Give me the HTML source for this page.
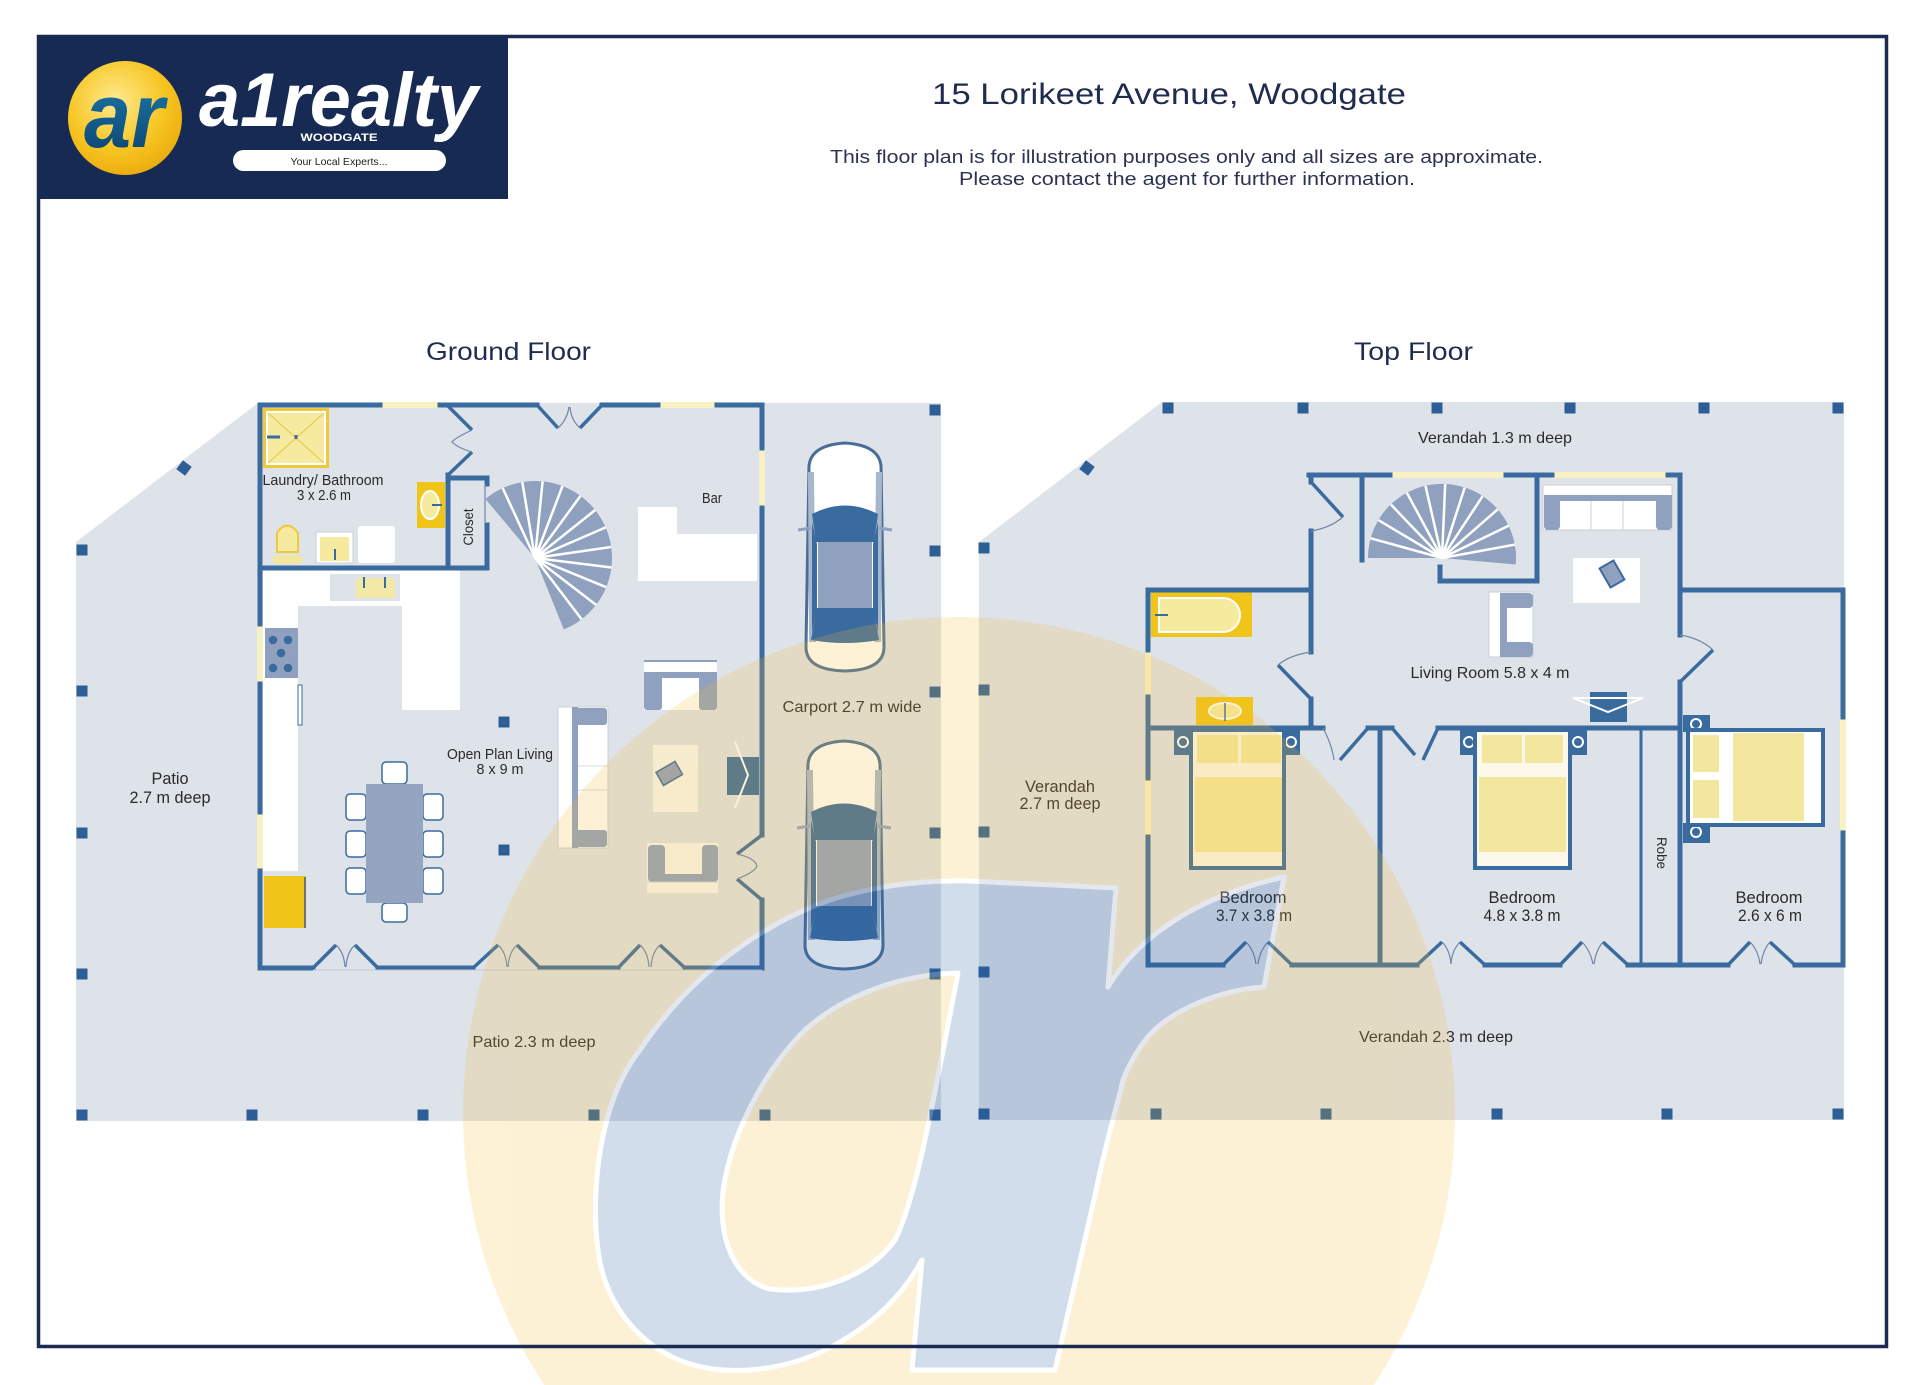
<!DOCTYPE html>
<html><head><meta charset="utf-8"><style>
html,body{margin:0;padding:0;background:#fff;width:1920px;height:1385px;overflow:hidden;}
svg{display:block;}
text{font-family:"Liberation Sans",Arial,sans-serif;}
</style></head><body>
<svg width="1920" height="1385" viewBox="0 0 1920 1385" xmlns="http://www.w3.org/2000/svg">
<defs>
<radialGradient id="gold" cx="42%" cy="35%" r="70%"><stop offset="0" stop-color="#fde98f"/><stop offset="0.6" stop-color="#f7c623"/><stop offset="1" stop-color="#eaa90c"/></radialGradient>
<linearGradient id="teal" x1="0" y1="0" x2="0" y2="1"><stop offset="0" stop-color="#1d80b2"/><stop offset="1" stop-color="#0a3e6b"/></linearGradient>
<g id="car">
<path d="M6,24 Q8,3 42,1 Q76,3 78,24 L81,205 Q81,228 42,229 Q3,228 3,205 Z" fill="#fff" stroke="#4a6d98" stroke-width="3"/>
<path d="M5,30 L11,30 L13,200 L6,200 Z" fill="#a9b7cc"/>
<path d="M79,30 L73,30 L71,200 L78,200 Z" fill="#a9b7cc"/>
<path d="M9,72 Q42,55 75,72 L71,100 L13,100 Z" fill="#3a6b9f"/>
<path d="M9,80 L14,102 L14,168 L9,190 Z" fill="#3a6b9f"/>
<path d="M75,80 L70,102 L70,168 L75,190 Z" fill="#3a6b9f"/>
<rect x="15" y="100" width="54" height="68" fill="#8fa1bf"/>
<path d="M14,166 L70,166 L76,198 Q42,204 8,198 Z" fill="#3a6b9f"/>
<path d="M-5,88 L8,86 M89,88 L76,86" stroke="#8fa1bf" stroke-width="3"/>
</g>
</defs>
<rect width="1920" height="1385" fill="#fff"/>

<!-- header text -->
<text x="932" y="104" font-size="30" fill="#1f2c4f" textLength="474" lengthAdjust="spacingAndGlyphs">15 Lorikeet Avenue, Woodgate</text>
<text x="830" y="163" font-size="18.5" fill="#2b3350" textLength="713" lengthAdjust="spacingAndGlyphs">This floor plan is for illustration purposes only and all sizes are approximate.</text>
<text x="959" y="185" font-size="18.5" fill="#2b3350" textLength="456" lengthAdjust="spacingAndGlyphs">Please contact the agent for further information.</text>
<text x="426" y="360" font-size="25" fill="#1f2c4f" textLength="165" lengthAdjust="spacingAndGlyphs">Ground Floor</text>
<text x="1354" y="360" font-size="25" fill="#1f2c4f" textLength="119" lengthAdjust="spacingAndGlyphs">Top Floor</text>

<!-- floor areas -->
<polygon points="76,542 258,403 941,403 941,1121 76,1121" fill="#dee2e9"/>
<polygon points="979,542 1162,402 1844,402 1844,1120 979,1120" fill="#dee2e9"/>

<!-- ===== GROUND FLOOR ===== -->
<rect x="263" y="568" width="197" height="38" fill="#fff"/>
<rect x="330" y="574" width="70" height="27" fill="#dee2e9"/>
<rect x="356" y="578" width="39" height="20" fill="#f3e9a6"/>
<path d="M364,577 V588 M385,577 V588" stroke="#3a6b9f" stroke-width="2"/>
<rect x="263" y="606" width="35" height="265" fill="#fff"/>
<rect x="402" y="606" width="58" height="104" fill="#fff"/>
<rect x="265" y="628" width="33" height="50" fill="#8fa1bf"/>
<g fill="#3a6b9f"><circle cx="273" cy="640" r="4.3"/><circle cx="288" cy="640" r="4.3"/><circle cx="281" cy="653" r="4.3"/><circle cx="273" cy="668" r="4.3"/><circle cx="288" cy="668" r="4.3"/></g>
<rect x="298" y="685" width="4" height="40" fill="#fff" stroke="#3a6b9f" stroke-width="1"/>
<rect x="264" y="876" width="42" height="52" fill="#f0c419"/>
<path d="M305,877 V928" stroke="#3a5f8a" stroke-width="1.5"/>

<rect x="263" y="408" width="66" height="60" fill="#f0c93a"/>
<rect x="267" y="412" width="58" height="52" fill="#f6ea9f" stroke="#fff" stroke-width="2"/>
<path d="M268,413 L324,463 M324,413 L268,463" stroke="#e3c74a" stroke-width="1"/>
<path d="M267,437 H280 M296,435 V439" stroke="#3a6b9f" stroke-width="3"/>
<rect x="417" y="482" width="28" height="46" fill="#f0c419"/>
<ellipse cx="430" cy="505" rx="9" ry="14" fill="#f6ea9f" stroke="#fff" stroke-width="2"/>
<path d="M432,505 H442" stroke="#3a6b9f" stroke-width="2"/>
<rect x="273" y="555" width="29" height="9" rx="3" fill="#f3e7a0"/>
<path d="M277,552 L277,533 Q287,518 298,533 L298,552 Z" fill="#f6ea9f" stroke="#f0c93a" stroke-width="2"/>
<rect x="316" y="532" width="37" height="31" fill="#fff" stroke="#c9cfd9" stroke-width="1"/>
<rect x="320" y="537" width="29" height="24" fill="#f6ea9f"/>
<path d="M335,549 V560" stroke="#3a6b9f" stroke-width="2"/>
<rect x="358" y="526" width="37" height="37" rx="3" fill="#fff"/>

<g fill="#f8f1c3">
<rect x="380" y="402" width="60" height="6"/><rect x="658" y="402" width="59" height="6"/>
<rect x="257" y="624" width="6" height="60"/><rect x="257" y="812" width="6" height="59"/>
<rect x="759" y="448" width="6" height="60"/>
</g>

<path d="M535,558 L485.5,499 A77,77 0 1 1 563.8,629.4 Z" fill="#8fa1bf"/>
<path d="M535,558 L502.7,488.1 M535,558 L522.3,482.1 M535,558 L542.6,481.4 M535,558 L562.5,486.1 M535,558 L580.5,495.9 M535,558 L595.2,510 M535,558 L605.7,527.4 M535,558 L611.2,547 M535,558 L611.4,567.5 M535,558 L606.2,587.2 M535,558 L596.1,604.9 M535,558 L581.6,619.3" stroke="#fff" stroke-width="2.5"/>

<polygon points="638,507 677,507 677,534 757,534 757,581 638,581" fill="#fff"/>

<rect x="644" y="660" width="73" height="50" fill="#fff"/>
<path d="M644,661 H717" stroke="#8fa1bf" stroke-width="2"/>
<rect x="644" y="672" width="73" height="6" fill="#8fa1bf"/>
<rect x="644" y="673" width="18" height="37" rx="3" fill="#8fa1bf"/>
<rect x="699" y="673" width="18" height="37" rx="3" fill="#8fa1bf"/>
<rect x="558" y="707" width="50" height="141" fill="#fff" stroke="#c9cfd9" stroke-width="1"/>
<rect x="572" y="707" width="6" height="141" fill="#8fa1bf"/>
<rect x="573" y="708" width="34" height="17" rx="3" fill="#8fa1bf"/>
<rect x="573" y="830" width="34" height="17" rx="3" fill="#8fa1bf"/>
<path d="M578,766 H607 M578,790 H607" stroke="#d6dbe3" stroke-width="1"/>
<rect x="653" y="745" width="45" height="67" fill="#f8f8f4"/>
<rect x="658" y="766" width="22" height="15" fill="#8fa1bf" stroke="#3a6b9f" stroke-width="1.5" transform="rotate(-30 669 773)"/>
<rect x="647" y="843" width="71" height="50" fill="#f8f8f4"/>
<rect x="648" y="845" width="17" height="37" rx="4" fill="#8fa1bf"/>
<rect x="702" y="845" width="16" height="37" rx="4" fill="#8fa1bf"/>
<rect x="660" y="874" width="45" height="8" fill="#8fa1bf"/>
<path d="M647,882 H718" stroke="#c9cfd9" stroke-width="1"/>
<rect x="727" y="757" width="32" height="38" fill="#3a6b9f"/>
<path d="M735,742 L748,775 L735,808" stroke="#fff" stroke-width="2" fill="none"/>

<g fill="#fff" stroke="#3a6b9f" stroke-width="1.5">
<rect x="346" y="794" width="20" height="26" rx="4"/><rect x="346" y="831" width="20" height="26" rx="4"/><rect x="346" y="868" width="20" height="26" rx="4"/>
<rect x="423" y="794" width="20" height="26" rx="4"/><rect x="423" y="831" width="20" height="26" rx="4"/><rect x="423" y="868" width="20" height="26" rx="4"/>
<rect x="382" y="762" width="25" height="22" rx="4"/><rect x="382" y="903" width="25" height="19" rx="4"/>
</g>
<rect x="366" y="784" width="57" height="119" fill="#94a5c2"/>

<path d="M260,405 H380 M440,405 H537 M602,405 H658 M717,405 H762 M260,405 V624 M260,684 V812 M260,871 V968 M260,968 H313 M378,968 H473 M540,968 H618 M685,968 H762 M762,405 V448 M762,508 V835 M762,900 V968 M260,568 H487 M448,475 V568 M448,478 H487 M487,478 V484 M487,525 V568" stroke="#3a6b9f" stroke-width="5" stroke-linecap="square" fill="none"/>
<path d="M537,405 L558,428 M602,405 L580,428 M447,405 L472,430 M472,452 L448,475 M313,968 L336,945 M378,968 L355,945 M473,968 L498,945 M540,968 L517,945 M618,968 L640,945 M685,968 L660,945 M762,835 L737,854 M737,879 L762,900" stroke="#3a6b9f" stroke-width="3.5" fill="none"/>
<path d="M558,428 Q567,420 569,407 M580,428 Q571,420 570,407 M472,430 Q455,438 452,442 Q458,448 472,452 M336,945 Q344,952 345,967 M355,945 Q347,952 346,967 M498,945 Q506,952 507,967 M517,945 Q509,952 508,967 M640,945 Q648,952 649,967 M660,945 Q652,952 651,967 M737,854 Q755,858 757,866 Q755,872 737,879 M485,484 V522" stroke="#6f86a8" stroke-width="1.2" fill="none"/>
<path d="M313,970 H762" stroke="#c3cad5" stroke-width="1"/>

<use href="#car" transform="translate(803,442)"/>
<use href="#car" transform="translate(802,740)"/>

<g fill="#2d5e95">
<rect x="76.5" y="544.5" width="11" height="11"/><rect x="76.5" y="685.5" width="11" height="11"/><rect x="76.5" y="827.5" width="11" height="11"/><rect x="76.5" y="968.5" width="11" height="11"/><rect x="76.5" y="1109.5" width="11" height="11"/>
<rect x="246.5" y="1109.5" width="11" height="11"/><rect x="417.5" y="1109.5" width="11" height="11"/><rect x="588.5" y="1109.5" width="11" height="11"/><rect x="759.5" y="1109.5" width="11" height="11"/><rect x="929.5" y="1109.5" width="11" height="11"/>
<rect x="929.5" y="968.5" width="11" height="11"/><rect x="929.5" y="827.5" width="11" height="11"/><rect x="929.5" y="686.5" width="11" height="11"/><rect x="929.5" y="545.5" width="11" height="11"/><rect x="929.5" y="404.5" width="11" height="11"/>
<rect x="498.5" y="716.5" width="11" height="11"/><rect x="498.5" y="844.5" width="11" height="11"/>
<rect x="178.5" y="462.5" width="11" height="11" transform="rotate(37 184 468)"/>
<rect x="1162.5" y="402.5" width="11" height="11"/><rect x="1297.5" y="402.5" width="11" height="11"/><rect x="1431.5" y="402.5" width="11" height="11"/><rect x="1564.5" y="402.5" width="11" height="11"/><rect x="1698.5" y="402.5" width="11" height="11"/><rect x="1832.5" y="402.5" width="11" height="11"/>
<rect x="978.5" y="542.5" width="11" height="11"/><rect x="978.5" y="684.5" width="11" height="11"/><rect x="978.5" y="826.5" width="11" height="11"/><rect x="978.5" y="966.5" width="11" height="11"/><rect x="978.5" y="1108.5" width="11" height="11"/>
<rect x="1150.5" y="1108.5" width="11" height="11"/><rect x="1320.5" y="1108.5" width="11" height="11"/><rect x="1491.5" y="1108.5" width="11" height="11"/><rect x="1661.5" y="1108.5" width="11" height="11"/><rect x="1832.5" y="1108.5" width="11" height="11"/>
<rect x="1081.5" y="462.5" width="11" height="11" transform="rotate(37 1087 468)"/>
</g>

<g fill="#2a2a2a" text-anchor="middle">
<text x="323" y="485" font-size="14.5" textLength="121" lengthAdjust="spacingAndGlyphs">Laundry/ Bathroom</text>
<text x="324" y="500" font-size="14.5" textLength="54" lengthAdjust="spacingAndGlyphs">3 x 2.6 m</text>
<text x="0" y="5" font-size="14" textLength="37" lengthAdjust="spacingAndGlyphs" transform="translate(468,527) rotate(-90)">Closet</text>
<text x="712" y="503" font-size="14.5" textLength="20" lengthAdjust="spacingAndGlyphs">Bar</text>
<text x="500" y="759" font-size="14.5" textLength="106" lengthAdjust="spacingAndGlyphs">Open Plan Living</text>
<text x="500" y="774" font-size="14.5" textLength="47" lengthAdjust="spacingAndGlyphs">8 x 9 m</text>
<text x="170" y="784" font-size="16.5" textLength="37" lengthAdjust="spacingAndGlyphs">Patio</text>
<text x="170" y="803" font-size="16.5" textLength="81" lengthAdjust="spacingAndGlyphs">2.7 m deep</text>
<text x="852" y="712" font-size="16" textLength="139" lengthAdjust="spacingAndGlyphs">Carport 2.7 m wide</text>
<text x="534" y="1047" font-size="16" textLength="123" lengthAdjust="spacingAndGlyphs">Patio 2.3 m deep</text>
</g>

<!-- ===== TOP FLOOR ===== -->
<path d="M1442,558 L1368,558 A74,74 0 1 1 1515.7,564.5 Z" fill="#8fa1bf"/>
<path d="M1442,558 L1370.7,538.3 M1442,558 L1378.4,520.1 M1442,558 L1390.9,504.5 M1442,558 L1406.9,492.8 M1442,558 L1425.5,485.9 M1442,558 L1445.2,484.1 M1442,558 L1464.7,487.6 M1442,558 L1482.6,496.2 M1442,558 L1497.7,509.3 M1442,558 L1508.6,525.8 M1442,558 L1514.8,544.6" stroke="#fff" stroke-width="2.5"/>

<rect x="1151" y="592" width="101" height="45" fill="#f0c419"/>
<path d="M1159,598 H1223 A17,17 0 0 1 1223,632 H1159 Z" fill="#f6ea9f" stroke="#fff" stroke-width="2"/>
<path d="M1155,615 H1168" stroke="#3a6b9f" stroke-width="2"/>
<rect x="1196" y="697" width="57" height="28" fill="#f0c419"/>
<ellipse cx="1225" cy="711" rx="16" ry="8" fill="#f6ea9f" stroke="#fff" stroke-width="2"/>
<path d="M1225,703 V721" stroke="#3a6b9f" stroke-width="1.5"/>

<rect x="1543" y="485" width="129" height="45" fill="#fff" stroke="#c9cfd9" stroke-width="1"/>
<rect x="1544" y="495" width="128" height="6" fill="#8fa1bf"/>
<rect x="1544" y="496" width="16" height="34" rx="4" fill="#8fa1bf"/>
<rect x="1656" y="496" width="16" height="34" rx="4" fill="#8fa1bf"/>
<path d="M1591,501 V530 M1623,501 V530" stroke="#c9cfd9" stroke-width="1"/>
<rect x="1573" y="558" width="67" height="45" fill="#fff"/>
<rect x="1604" y="563" width="16" height="22" fill="#8fa1bf" stroke="#3a6b9f" stroke-width="2" transform="rotate(-30 1612 574)"/>
<rect x="1489" y="592" width="44" height="65" fill="#fff" stroke="#c9cfd9" stroke-width="1"/>
<rect x="1500" y="593" width="7" height="64" fill="#8fa1bf"/>
<rect x="1502" y="593" width="31" height="15" rx="4" fill="#8fa1bf"/>
<rect x="1502" y="642" width="31" height="15" rx="4" fill="#8fa1bf"/>
<rect x="1590" y="692" width="37" height="30" fill="#3a6b9f"/>
<path d="M1573,698 H1643 L1608,712 Z" stroke="#fff" stroke-width="2" fill="none"/>

<g fill="#3a6b9f">
<rect x="1174" y="728" width="18" height="27"/><rect x="1281" y="728" width="19" height="27"/>
<rect x="1460" y="728" width="18" height="27"/><rect x="1570" y="728" width="17" height="27"/>
<rect x="1683" y="715" width="27" height="17"/><rect x="1683" y="823" width="27" height="20"/>
</g>
<g fill="none" stroke="#fff" stroke-width="2">
<circle cx="1183" cy="742" r="5"/><circle cx="1291" cy="742" r="5"/><circle cx="1469" cy="742" r="5"/><circle cx="1578" cy="742" r="5"/><circle cx="1696" cy="724" r="5"/><circle cx="1696" cy="832" r="5"/>
</g>
<rect x="1191" y="730" width="93" height="138" fill="#fcf8ea" stroke="#3a6b9f" stroke-width="4"/>
<rect x="1197" y="735" width="41" height="28" fill="#f3e7a0"/><rect x="1241" y="735" width="40" height="28" fill="#f3e7a0"/>
<rect x="1195" y="777" width="87" height="75" fill="#f3e7a0"/>
<rect x="1475" y="730" width="95" height="138" fill="#fcf8ea" stroke="#3a6b9f" stroke-width="4"/>
<rect x="1482" y="735" width="40" height="28" fill="#f3e7a0"/><rect x="1525" y="735" width="38" height="28" fill="#f3e7a0"/>
<rect x="1479" y="777" width="87" height="75" fill="#f3e7a0"/>
<rect x="1688" y="730" width="135" height="95" fill="#fff" stroke="#3a6b9f" stroke-width="4"/>
<rect x="1693" y="735" width="26" height="37" fill="#f3e7a0"/><rect x="1693" y="780" width="26" height="38" fill="#f3e7a0"/>
<rect x="1733" y="733" width="71" height="88" fill="#f3e7a0"/>

<g fill="#f8f1c3">
<rect x="1390" y="472" width="116" height="6"/><rect x="1552" y="472" width="116" height="6"/>
<rect x="1145" y="650" width="6" height="47"/><rect x="1145" y="778" width="6" height="59"/>
<rect x="1840" y="717" width="6" height="116"/>
</g>

<path d="M1309,475 H1390 M1506,475 H1552 M1668,475 H1680 M1362,475 V560 M1537,475 V581 M1440,567 V581 M1440,581 H1537 M1311,475 V482 M1311,531 V652 M1311,699 V728 M1680,475 V635 M1680,682 V965 M1148,590 H1311 M1148,590 V650 M1148,697 V778 M1148,837 V965 M1148,728 H1323 M1368,728 H1392 M1438,728 H1680 M1380,728 V965 M1680,590 H1843 M1843,590 V717 M1843,833 V965 M1148,965 H1223 M1292,965 H1417 M1485,965 H1560 M1628,965 H1728 M1795,965 H1843" stroke="#3a6b9f" stroke-width="5" stroke-linecap="square" fill="none"/>
<path d="M1641,728 V965" stroke="#3a6b9f" stroke-width="3"/>
<path d="M1311,482 L1343,517 M1278,665 L1311,699 M1680,682 L1713,650 M1368,728 L1340,760 M1392,728 L1415,755 M1438,728 L1423,760 M1223,965 L1246,942 M1292,965 L1268,942 M1417,965 L1442,942 M1485,965 L1460,942 M1560,965 L1582,942 M1628,965 L1603,942 M1728,965 L1750,942 M1795,965 L1770,942" stroke="#3a6b9f" stroke-width="3.5" fill="none"/>
<path d="M1343,517 Q1330,528 1311,531 M1311,652 Q1290,655 1278,665 M1680,635 Q1700,638 1713,650 M1323,728 Q1332,745 1334,760 M1246,942 Q1254,950 1256,964 M1268,942 Q1260,950 1258,964 M1442,942 Q1450,950 1451,964 M1460,942 Q1452,950 1451,964 M1582,942 Q1590,950 1593,964 M1603,942 Q1596,950 1594,964 M1750,942 Q1758,950 1760,964 M1770,942 Q1763,950 1761,964" stroke="#6f86a8" stroke-width="1.2" fill="none"/>

<g fill="#2a2a2a" text-anchor="middle">
<text x="1495" y="443" font-size="16" textLength="154" lengthAdjust="spacingAndGlyphs">Verandah 1.3 m deep</text>
<text x="1490" y="678" font-size="16" textLength="159" lengthAdjust="spacingAndGlyphs">Living Room 5.8 x 4 m</text>
<text x="1060" y="792" font-size="16.5" textLength="70" lengthAdjust="spacingAndGlyphs">Verandah</text>
<text x="1060" y="809" font-size="16.5" textLength="81" lengthAdjust="spacingAndGlyphs">2.7 m deep</text>
<text x="1253" y="903" font-size="16.5" textLength="67" lengthAdjust="spacingAndGlyphs">Bedroom</text>
<text x="1254" y="921" font-size="16.5" textLength="76" lengthAdjust="spacingAndGlyphs">3.7 x 3.8 m</text>
<text x="1522" y="903" font-size="16.5" textLength="67" lengthAdjust="spacingAndGlyphs">Bedroom</text>
<text x="1522" y="921" font-size="16.5" textLength="77" lengthAdjust="spacingAndGlyphs">4.8 x 3.8 m</text>
<text x="1769" y="903" font-size="16.5" textLength="67" lengthAdjust="spacingAndGlyphs">Bedroom</text>
<text x="1770" y="921" font-size="16.5" textLength="64" lengthAdjust="spacingAndGlyphs">2.6 x 6 m</text>
<text x="0" y="5" font-size="14" textLength="32" lengthAdjust="spacingAndGlyphs" transform="translate(1662,853) rotate(90)">Robe</text>
<text x="1436" y="1042" font-size="16" textLength="154" lengthAdjust="spacingAndGlyphs">Verandah 2.3 m deep</text>
</g>

<!-- watermark -->
<g opacity="0.2">
<path d="M544.2,1385 A496,496 0 1 1 1373.8,1385 Z" fill="#f5bc32"/>
<path fill-rule="evenodd" fill="#1e5aa0" stroke="#fff" stroke-width="5" stroke-linejoin="round" d="M1116,888 L1108,987 C1130,950 1180,900 1284,877 L1264,987 C1220,990 1170,1010 1147,1038 C1130,1060 1122,1080 1121,1089 C1110,1130 1100,1170 1096,1191 L1055,1370 L912,1370 L922,1260 C900,1300 870,1325 840,1342 C790,1372 730,1376 690,1364 C640,1348 605,1305 598,1250 C590,1190 600,1100 640,1050 C690,975 760,925 830,900 C880,884 930,880 968,881 Z M958,973 C910,974 850,990 805,1030 C760,1075 730,1140 723,1191 C718,1240 735,1280 770,1289 C820,1295 870,1275 895,1240 C915,1200 930,1120 958,973 Z"/>
</g>

<!-- frame -->
<rect x="38.5" y="36.5" width="1848" height="1310" fill="none" stroke="#1b2a50" stroke-width="3.5"/>

<!-- logo -->
<rect x="37" y="35" width="471" height="164" fill="#172a54"/>
<circle cx="125" cy="118" r="57" fill="url(#gold)"/>
<text x="84" y="147" font-size="92" font-weight="bold" font-style="italic" fill="url(#teal)" textLength="80" lengthAdjust="spacingAndGlyphs">ar</text>
<text x="199" y="126" font-size="76" font-weight="bold" font-style="italic" fill="#fff" textLength="279" lengthAdjust="spacingAndGlyphs">a1realty</text>
<text x="339" y="141" font-size="11" font-weight="bold" fill="#fff" text-anchor="middle" textLength="77" lengthAdjust="spacingAndGlyphs">WOODGATE</text>
<rect x="233" y="150" width="213" height="21" rx="10.5" fill="#fff"/>
<text x="339" y="165" font-size="10.5" fill="#222" text-anchor="middle" textLength="97" lengthAdjust="spacingAndGlyphs">Your Local Experts...</text>
</svg>
</body></html>
